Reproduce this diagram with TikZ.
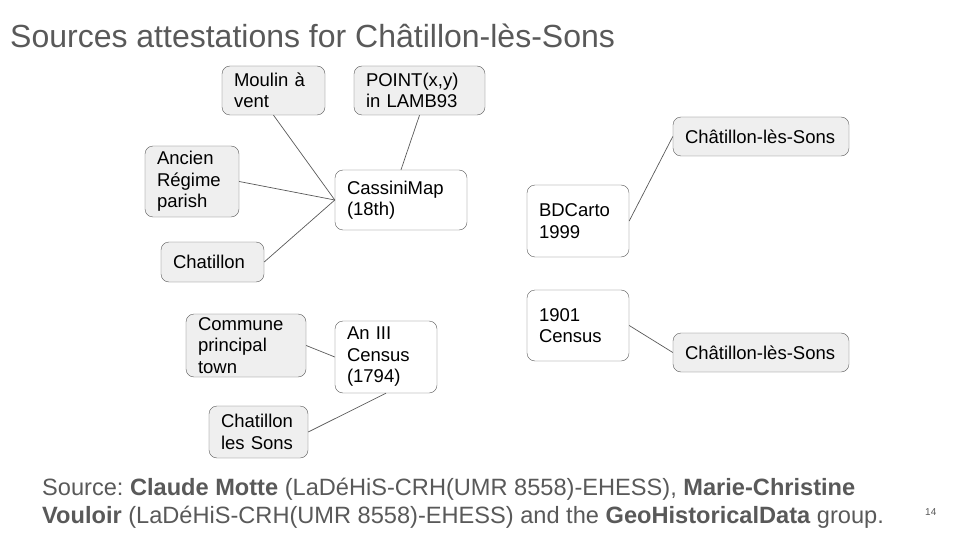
\documentclass[tikz,border=0pt]{standalone}
\usepackage{fontspec}
\setmainfont{Liberation Sans}
\usetikzlibrary{positioning}
\definecolor{boxgray}{RGB}{239,239,239}
\definecolor{linegray}{RGB}{89,89,89}
\definecolor{textgray}{RGB}{89,89,89}
\frenchspacing

\begin{document}
\begin{tikzpicture}[x=1pt, y=-1pt,
    every node/.style={inner sep=0pt, font=\fontsize{18.5}{21.5}\selectfont},
    attr/.style={draw=linegray, fill=boxgray, rounded corners=8pt, align=left, inner xsep=12pt},
    src/.style={attr, fill=white},
    link/.style={draw=linegray, line width=0.7pt}]
                \useasboundingbox (0,0) rectangle (960,540);
                % Title
                \node[anchor=base west, text=textgray, font=\fontsize{32}{38}\selectfont] (title) at (10,48) {Sources attestations for Châtillon-lès-Sons};

                % Cassini map and its attributes
                \node[src, text width=108pt, minimum height=60pt] (cassini) at (401,200) {CassiniMap\\(18th)};
                \node[attr, text width=79pt, minimum height=49pt] (moulin) at (273.5,90.5) {Moulin à\\vent};
                \node[attr, text width=107pt, minimum height=49pt] (point) at (419.5,90.5) {POINT(x,y)\\in LAMB93};
                \node[attr, text width=70pt, minimum height=71pt] (ancien) at (192,181.5) {Ancien\\Régime\\parish};
                \node[attr, text width=79pt, minimum height=40pt] (chat) at (212.5,262) {Chatillon};
                \draw[link] (moulin.south) -- (cassini.west);
                \draw[link] (point.south) -- (cassini.north);
                \draw[link] (ancien.east) -- (cassini.west);
                \draw[link] (chat.east) -- (cassini.west);

                % An III census
                \node[src, text width=78pt, minimum height=72pt] (aniii) at (386,357) {An III\\Census\\(1794)};
                \node[attr, text width=96pt, minimum height=63pt] (commune) at (246,345.5) {Commune\\principal\\town};
                \node[attr, text width=75pt, minimum height=52pt] (chatsons) at (258.5,432) {Chatillon\\les Sons};
                \draw[link] (commune.east) -- (aniii.west);
                \draw[link] (chatsons.east) -- (aniii.south);

                % BDCarto and 1901 census
                \node[src, text width=78pt, minimum height=72pt] (bdcarto) at (578,221) {BDCarto\\1999};
                \node[attr, text width=152pt, minimum height=39pt] (chatA) at (761,136.5) {Châtillon-lès-Sons};
                \draw[link] (bdcarto.east) -- (chatA.west);
                \node[src, text width=78pt, minimum height=71pt] (census) at (578,325.5) {1901\\Census};
                \node[attr, text width=152pt, minimum height=39pt] (chatB) at (761,352.5) {Châtillon-lès-Sons};
                \draw[link] (census.east) -- (chatB.west);

                % Source
                \node[anchor=base west, text=textgray, font=\fontsize{23.6}{28}\selectfont] (foot1) at (42,495) {Source: \textbf{Claude Motte} (LaDéHiS-CRH(UMR 8558)-EHESS), \textbf{Marie-Christine}};
                \node[anchor=base west, text=textgray, font=\fontsize{23.6}{28}\selectfont] (foot2) at (42,523) {\textbf{Vouloir} (LaDéHiS-CRH(UMR 8558)-EHESS) and the \textbf{GeoHistoricalData} group.};
                \node[anchor=base west, text=textgray, font=\fontsize{10}{12}\selectfont] (page) at (925,515) {14};
\end{tikzpicture}
\end{document}
